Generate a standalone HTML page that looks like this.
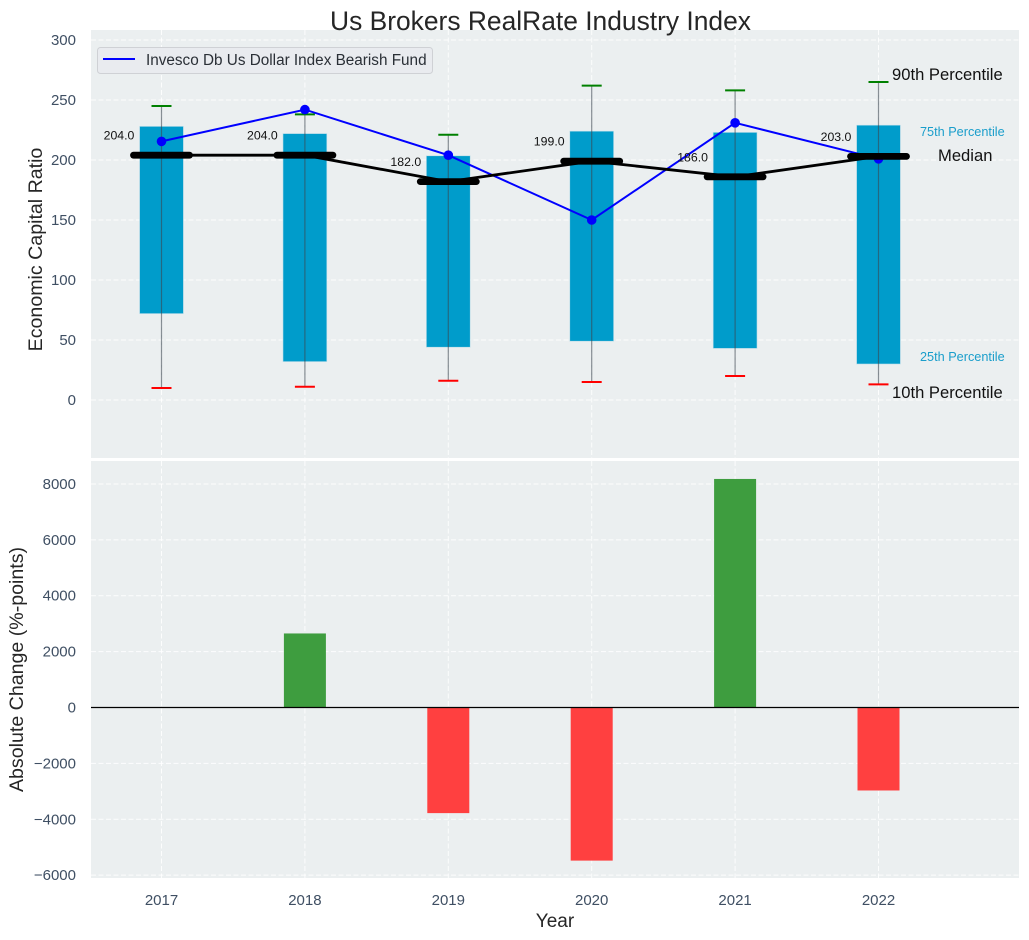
<!DOCTYPE html>
<html><head><meta charset="utf-8"><title>Us Brokers RealRate Industry Index</title>
<style>
html,body{margin:0;padding:0;background:#fff;width:1029px;height:940px;overflow:hidden}
svg{display:block;font-family:"Liberation Sans",Arial,sans-serif}
</style></head>
<body>
<svg id="chart" xmlns="http://www.w3.org/2000/svg" width="1029" height="940" viewBox="0 0 1029 940"></svg>
<script>
const categories = [2017, 2018, 2019, 2020, 2021, 2022];
const p90 = [245, 238, 221, 262, 258, 265];
const p75 = [228, 222, 203.5, 224, 223, 229];
const median = [204, 204, 182, 199, 186, 203];
const p25 = [72, 32, 44, 49, 43, 30];
const p10 = [10, 11, 16, 15, 20, 13];
const fund = [215.5, 242, 204, 150, 231, 201];
const absChange = [0, 2650, -3780, -5480, 8180, -2970];
const topTicks = [0, 50, 100, 150, 200, 250, 300];
const bottomTicks = [-6000, -4000, -2000, 0, 2000, 4000, 6000, 8000];
const medianLabels = ["204.0", "204.0", "182.0", "199.0", "186.0", "203.0"];

const svg = document.getElementById('chart');
const NS = 'http://www.w3.org/2000/svg';
const AX = {left: 91, right: 1019, topY0: 30, topY1: 458, botY0: 461, botY1: 878};
const xPos = v => 161.5 + (v - 2017) * 143.4;
const yTop = v => 400 - v * 1.2;
const yBot = v => 707.5 - v * 0.02794;

function mk(tag, attrs, name, inter) {
  const el = document.createElementNS(NS, tag);
  for (const k in attrs) el.setAttribute(k, attrs[k]);
  
  
  svg.appendChild(el);
  return el;
}
function txt(x, y, s, size, fill, anchor, name, extra) {
  const el = mk('text', Object.assign({x: x, y: y, 'font-size': size, fill: fill, 'text-anchor': anchor || 'start'}, extra || {}), name, false);
  el.textContent = s;
  return el;
}
const GRID = {stroke: '#ffffff', 'stroke-width': 1, 'stroke-opacity': 0.85, 'stroke-dasharray': '5 2.5'};
const TICK = '#3f4f63';

mk('rect', {x: AX.left, y: AX.topY0, width: AX.right - AX.left, height: AX.topY1 - AX.topY0, fill: '#ebeff0'}, 'top-panel-background');
mk('rect', {x: AX.left, y: AX.botY0, width: AX.right - AX.left, height: AX.botY1 - AX.botY0, fill: '#ebeff0'}, 'bottom-panel-background');

topTicks.forEach(t => {
  mk('line', Object.assign({x1: AX.left, x2: AX.right, y1: yTop(t), y2: yTop(t)}, GRID), 'top-grid-line-' + t);
  txt(76, yTop(t) + 5, String(t), 15, TICK, 'end', 'top-y-tick-' + t);
});
bottomTicks.forEach(t => {
  mk('line', Object.assign({x1: AX.left, x2: AX.right, y1: yBot(t), y2: yBot(t)}, GRID), 'bottom-grid-line-' + t);
  txt(76, yBot(t) + 5, String(t).replace('-', '\u2212'), 15, TICK, 'end', 'bottom-y-tick-' + t);
});
categories.forEach(c => {
  const x = xPos(c);
  mk('line', Object.assign({x1: x, x2: x, y1: AX.topY0, y2: AX.topY1}, GRID), 'top-grid-vertical-' + c);
  mk('line', Object.assign({x1: x, x2: x, y1: AX.botY0, y2: AX.botY1}, GRID), 'bottom-grid-vertical-' + c);
  txt(x, 905, String(c), 15, TICK, 'middle', 'x-tick-' + c);
});

/* Boxes */
categories.forEach((c, i) => {
  const x = xPos(c);
  mk('rect', {x: x - 21.9, y: yTop(p75[i]), width: 43.8, height: yTop(p25[i]) - yTop(p75[i]), fill: '#009ccb', stroke: '#b8dde8', 'stroke-width': 0.6}, 'box-' + c);
});
/* Whiskers and caps */
categories.forEach((c, i) => {
  const x = xPos(c);
  mk('line', {x1: x, x2: x, y1: yTop(p90[i]), y2: yTop(p10[i]), stroke: '#3b4650', 'stroke-opacity': 0.6, 'stroke-width': 1.2}, 'whisker-' + c);
  mk('line', {x1: x - 10, x2: x + 10, y1: yTop(p90[i]), y2: yTop(p90[i]), stroke: '#008000', 'stroke-width': 2}, 'cap-90th-' + c);
  mk('line', {x1: x - 10, x2: x + 10, y1: yTop(p10[i]), y2: yTop(p10[i]), stroke: '#ff0000', 'stroke-width': 2}, 'cap-10th-' + c);
});
/* Fund line */
mk('polyline', {points: categories.map((c, i) => xPos(c) + ',' + yTop(fund[i])).join(' '), fill: 'none', stroke: '#0000ff', 'stroke-width': 2}, 'fund-line');
categories.forEach((c, i) => {
  mk('circle', {cx: xPos(c), cy: yTop(fund[i]), r: 4.8, fill: '#0000ff'}, 'fund-point-' + c);
});
/* Median line */
mk('polyline', {points: categories.map((c, i) => xPos(c) + ',' + yTop(median[i])).join(' '), fill: 'none', stroke: '#000000', 'stroke-width': 2.8}, 'median-line');
categories.forEach((c, i) => {
  const x = xPos(c), y = yTop(median[i]);
  mk('line', {x1: x - 28, x2: x + 28, y1: y, y2: y, stroke: '#000000', 'stroke-width': 6.8, 'stroke-linecap': 'round'}, 'median-marker-' + c);
  txt(x - 42.5, y - 15.5, medianLabels[i], 12.3, '#111111', 'middle', 'median-label-' + c);
});

/* Annotations */
txt(892, 80, '90th Percentile', 16.6, '#111111', 'start', 'annotation-90th-percentile');
txt(920, 136, '75th Percentile', 12.7, '#1a9ecb', 'start', 'annotation-75th-percentile');
txt(938, 161, 'Median', 16.6, '#111111', 'start', 'annotation-median');
txt(920, 361, '25th Percentile', 12.7, '#1a9ecb', 'start', 'annotation-25th-percentile');
txt(892, 398, '10th Percentile', 16.6, '#111111', 'start', 'annotation-10th-percentile');

/* Legend */
mk('rect', {x: 97.5, y: 47.5, width: 335, height: 26, rx: 3, fill: '#e9ebef', stroke: '#cfd1d5', 'stroke-width': 1}, 'legend-box');
mk('line', {x1: 103, x2: 135, y1: 59, y2: 59, stroke: '#0000ff', 'stroke-width': 2}, 'legend-line');
txt(146, 65, 'Invesco Db Us Dollar Index Bearish Fund', 15.3, '#2a2f36', 'start', 'legend-label');

/* Bottom bars */
categories.forEach((c, i) => {
  const v = absChange[i];
  if (v === 0) return;
  const y0 = yBot(Math.max(v, 0)), y1 = yBot(Math.min(v, 0));
  mk('rect', {x: xPos(c) - 21, y: y0, width: 42, height: y1 - y0, fill: v > 0 ? '#3e9d3f' : '#ff4040'}, 'change-bar-' + c);
});
mk('line', {x1: AX.left, x2: AX.right, y1: yBot(0), y2: yBot(0), stroke: '#000000', 'stroke-width': 1.2}, 'zero-line');

/* Titles */
txt(540.5, 30, 'Us Brokers RealRate Industry Index', 26.4, '#262626', 'middle', 'chart-title');
txt(555, 927, 'Year', 19, '#262626', 'middle', 'x-axis-title');
txt(0, 0, 'Economic Capital Ratio', 19.6, '#262626', 'middle', 'top-y-axis-title', {transform: 'translate(42,249.5) rotate(-90)'});
txt(0, 0, 'Absolute Change (%-points)', 19.6, '#262626', 'middle', 'bottom-y-axis-title', {transform: 'translate(23,669.5) rotate(-90)'});
</script>
</body></html>
